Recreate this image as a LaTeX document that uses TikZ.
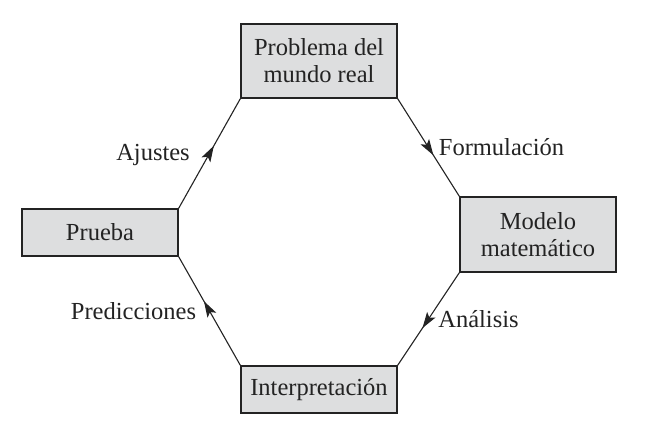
\documentclass[tikz,border=0pt]{standalone}
\usepackage{fontspec}
\setmainfont{Liberation Serif}
\usetikzlibrary{arrows.meta,decorations.markings}
\definecolor{boxfill}{RGB}{221,222,223}
\definecolor{ink}{RGB}{35,35,35}
\tikzset{
  stagebox/.style={draw=ink, line width=1.3pt, fill=boxfill, minimum width=156pt, inner sep=0pt, align=center, font=\fontsize{24.5}{27}\selectfont, text=ink},
  lbl/.style={anchor=base, inner sep=0pt, font=\fontsize{24.5}{27}\selectfont, text=ink},
  flow/.style={draw=ink, line width=1.1pt, postaction={decorate}, decoration={markings, mark=at position #1 with {\arrow{Stealth[length=16pt,width=10pt,inset=3.5pt]}}}}
}
\begin{document}
\begin{tikzpicture}[x=1pt,y=1pt]
\useasboundingbox (0,0) rectangle (648,437);
\node[stagebox, minimum height=74pt] (real) at (319,376) {Problema del\\mundo real};
\node[stagebox, minimum height=75pt] (modelo) at (538,202.5) {Modelo\\matemático};
\node[stagebox, minimum height=47pt] (prueba) at (100,204.5) {Prueba};
\node[stagebox, minimum height=47pt] (interp) at (319,47.5) {Interpretación};
\draw[flow=0.58] (real.south east) -- (modelo.north west);
\draw[flow=0.6] (modelo.south west) -- (interp.north east);
\draw[flow=0.59] (interp.north west) -- (prueba.south east);
\draw[flow=0.57] (prueba.north east) -- (real.south west);
\node[lbl] (ajustes) at (153,276) {Ajustes};
\node[lbl] (formul) at (501.5,281) {Formulación};
\node[lbl] (analisis) at (478.5,110) {Análisis};
\node[lbl] (pred) at (133.5,118) {Predicciones};
\end{tikzpicture}
\end{document}
